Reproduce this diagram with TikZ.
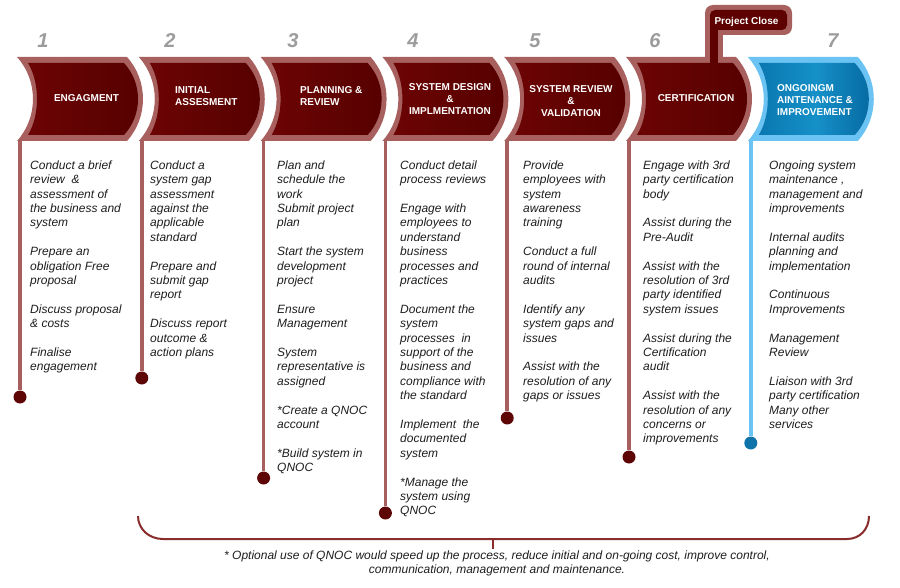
\documentclass[tikz,border=0pt]{standalone}
\usepackage{fontspec}
\setmainfont{Liberation Sans}
\definecolor{rimred}{HTML}{A8605F}
\definecolor{deepredL}{HTML}{6C0404}
\definecolor{deepredR}{HTML}{560000}
\definecolor{dotred}{HTML}{5E0606}
\definecolor{rimblue}{HTML}{6BC3F3}
\definecolor{blueL}{HTML}{0A78B0}
\definecolor{blueM}{HTML}{1690C8}
\definecolor{blueR}{HTML}{0668A0}
\definecolor{dotblue}{HTML}{0D73A8}
\definecolor{numgray}{HTML}{9C9C9C}
\definecolor{bracketred}{HTML}{8A2C2C}
\definecolor{bodytext}{HTML}{1E1E1E}
\begin{document}
\begin{tikzpicture}[x=1pt,y=-1pt,
  coltext/.style={anchor=base west, inner sep=0pt, text=bodytext, font=\fontsize{12}{14.4}\selectfont\itshape},
  chevlabel/.style={inner sep=0pt, text=white, font=\fontsize{10}{12}\selectfont\bfseries},
  stepnum/.style={anchor=base, inner sep=0pt, text=numgray, font=\fontsize{20}{24}\selectfont\bfseries\itshape},
  stemline/.style={line width=3.5pt, draw=rimred},
  stemblue/.style={line width=3.5pt, draw=rimblue},
  enddot/.style={circle, fill=dotred, minimum size=13pt, inner sep=0pt},
  enddotblue/.style={circle, fill=dotblue, minimum size=13pt, inner sep=0pt},
  bracketline/.style={line width=2pt, draw=bracketred}
]
\useasboundingbox (0,0) rectangle (900,588);
\fill[white] (0,0) rectangle (900,588);

% outer rims of the red chevrons
\foreach \L in {17,138.8,260.6,382.4,504.2,626}{
  \fill[rimred] (\L,57) -- ({\L+110},57) .. controls ({\L+131.3},80.5) and ({\L+131.3},117.5) .. ({\L+110},141)
     -- (\L,141) .. controls ({\L+21.3},117.5) and ({\L+21.3},80.5) .. cycle;
}
% project close tab rim
\fill[rimred, rounded corners=8pt] (705,5) rectangle (792,35);
\fill[rimred] (705,25) rectangle (723,60);
% blue chevron rim
\fill[rimblue] (747.8,57) -- (857.8,57) .. controls (879.1,80.5) and (879.1,117.5) .. (857.8,141)
     -- (747.8,141) .. controls (769.1,117.5) and (769.1,80.5) .. cycle;

% inner red bodies
\foreach \L in {17,138.8,260.6,382.4,504.2,626}{
  \shade[left color=deepredL, right color=deepredR] ({\L+11},63) -- ({\L+107},63) .. controls ({\L+125.7},83.2) and ({\L+125.7},114.8) .. ({\L+107},135)
     -- ({\L+11},135) .. controls ({\L+23},114.8) and ({\L+23},83.2) .. cycle;
}
\fill[deepredL!30!deepredR, rounded corners=5pt] (710,10) rectangle (787,30);
\fill[deepredL!30!deepredR] (710,22) rectangle (718,66);
% inner blue body
\shade[left color=blueL, right color=blueR, middle color=blueM] (758.8,63) -- (854.8,63) .. controls (873.5,83.2) and (873.5,114.8) .. (854.8,135)
     -- (758.8,135) .. controls (770.8,114.8) and (770.8,83.2) .. cycle;

% step numbers
\node[stepnum] (n1) at (43,48) {1};
\node[stepnum] (n2) at (170,48) {2};
\node[stepnum] (n3) at (293,48) {3};
\node[stepnum] (n4) at (413,48) {4};
\node[stepnum] (n5) at (535,48) {5};
\node[stepnum] (n6) at (655,48) {6};
\node[stepnum] (n7) at (833,48) {7};

% chevron labels
\node[chevlabel, anchor=base] (h1) at (86.5,101.6) {ENGAGMENT};
\node[chevlabel, anchor=base west] (h2) at (175,93.6) {\parbox[t]{90pt}{INITIAL\\ASSESMENT}};
\node[chevlabel, anchor=base west] (h3) at (300,93.6) {\parbox[t]{90pt}{PLANNING \&\\REVIEW}};
\node[chevlabel, anchor=base] (h4) at (450,90.6) {\parbox[t]{100pt}{\centering SYSTEM DESIGN\\\&\\IMPLMENTATION}};
\node[chevlabel, anchor=base] (h5) at (571,92.6) {\parbox[t]{100pt}{\centering SYSTEM REVIEW\\\&\\VALIDATION}};
\node[chevlabel, anchor=base] (h6) at (696,101.6) {CERTIFICATION};
\node[chevlabel, anchor=base west] (h7) at (777,91.6) {\parbox[t]{90pt}{ONGOINGM\\AINTENANCE \&\\IMPROVEMENT}};
\node[chevlabel, anchor=base] (pc) at (746.5,24.3) {Project Close};

% stems and end dots
\coordinate (s1) at (20,141);
\coordinate (s2) at (141.8,141);
\coordinate (s3) at (263.6,141);
\coordinate (s4) at (385.4,141);
\coordinate (s5) at (507.2,141);
\coordinate (s6) at (629,141);
\coordinate (s7) at (750.8,141);
\node[enddot] (d1) at (20,397) {};
\node[enddot] (d2) at (141.8,378) {};
\node[enddot] (d3) at (263.6,478) {};
\node[enddot] (d4) at (385.4,513) {};
\node[enddot] (d5) at (507.2,418) {};
\node[enddot] (d6) at (629,457) {};
\node[enddotblue] (d7) at (750.8,443) {};
\draw[stemline] (s1) -- (d1.north);
\draw[stemline] (s2) -- (d2.north);
\draw[stemline] (s3) -- (d3.north);
\draw[stemline] (s4) -- (d4.north);
\draw[stemline] (s5) -- (d5.north);
\draw[stemline] (s6) -- (d6.north);
\draw[stemblue] (s7) -- (d7.north);

% column texts
\node[coltext] (t1) at (30,169.3) {\parbox[t]{110pt}{\raggedright
Conduct a brief\\review~~\&\\assessment of\\the business and\\system\\[14.4pt]
Prepare an\\obligation Free\\proposal\\[14.4pt]
Discuss proposal\\\& costs\\[14.4pt]
Finalise\\engagement}};
\node[coltext] (t2) at (150,169.3) {\parbox[t]{110pt}{\raggedright
Conduct a\\system gap\\assessment\\against the\\applicable\\standard\\[14.4pt]
Prepare and\\submit gap\\report\\[14.4pt]
Discuss report\\outcome \&\\action plans}};
\node[coltext] (t3) at (277,169.3) {\parbox[t]{110pt}{\raggedright
Plan and\\schedule the\\work\\Submit project\\plan\\[14.4pt]
Start the system\\development\\project\\[14.4pt]
Ensure\\Management\\[14.4pt]
System\\representative is\\assigned\\[14.4pt]
*Create a QNOC\\account\\[14.4pt]
*Build system in\\QNOC}};
\node[coltext] (t4) at (400,169.3) {\parbox[t]{110pt}{\raggedright
Conduct detail\\process reviews\\[14.4pt]
Engage with\\employees to\\understand\\business\\processes and\\practices\\[14.4pt]
Document the\\system\\processes~~in\\support of the\\business and\\compliance with\\the standard\\[14.4pt]
Implement~~the\\documented\\system\\[14.4pt]
*Manage the\\system using\\QNOC}};
\node[coltext] (t5) at (523,169.3) {\parbox[t]{110pt}{\raggedright
Provide\\employees with\\system\\awareness\\training\\[14.4pt]
Conduct a full\\round of internal\\audits\\[14.4pt]
Identify any\\system gaps and\\issues\\[14.4pt]
Assist with the\\resolution of any\\gaps or issues}};
\node[coltext] (t6) at (643,169.3) {\parbox[t]{110pt}{\raggedright
Engage with 3rd\\party certification\\body\\[14.4pt]
Assist during the\\Pre-Audit\\[14.4pt]
Assist with the\\resolution of 3rd\\party identified\\system issues\\[14.4pt]
Assist during the\\Certification\\audit\\[14.4pt]
Assist with the\\resolution of any\\concerns or\\improvements}};
\node[coltext] (t7) at (769,169.3) {\parbox[t]{120pt}{\raggedright
Ongoing system\\maintenance ,\\management and\\improvements\\[14.4pt]
Internal audits\\planning and\\implementation\\[14.4pt]
Continuous\\Improvements\\[14.4pt]
Management\\Review\\[14.4pt]
Liaison with 3rd\\party certification\\Many other\\services}};

% bottom bracket
\coordinate (bl) at (138,516);
\coordinate (br) at (869,516);
\coordinate (bm) at (493,539);
\coordinate (bt) at (493,549);
\draw[bracketline] (bl) .. controls (138,529) and (149,539) .. (163,539) -- (847,539)
   .. controls (860,539) and (869,529) .. (br);
\draw[bracketline] (bm) -- (bt);
\node[coltext, anchor=base] (foot) at (497,559.3) {\parbox[t]{640pt}{\centering
* Optional use of QNOC would speed up the process, reduce initial and on-going cost, improve control,\\
communication, management and maintenance.}};
\end{tikzpicture}
\end{document}
